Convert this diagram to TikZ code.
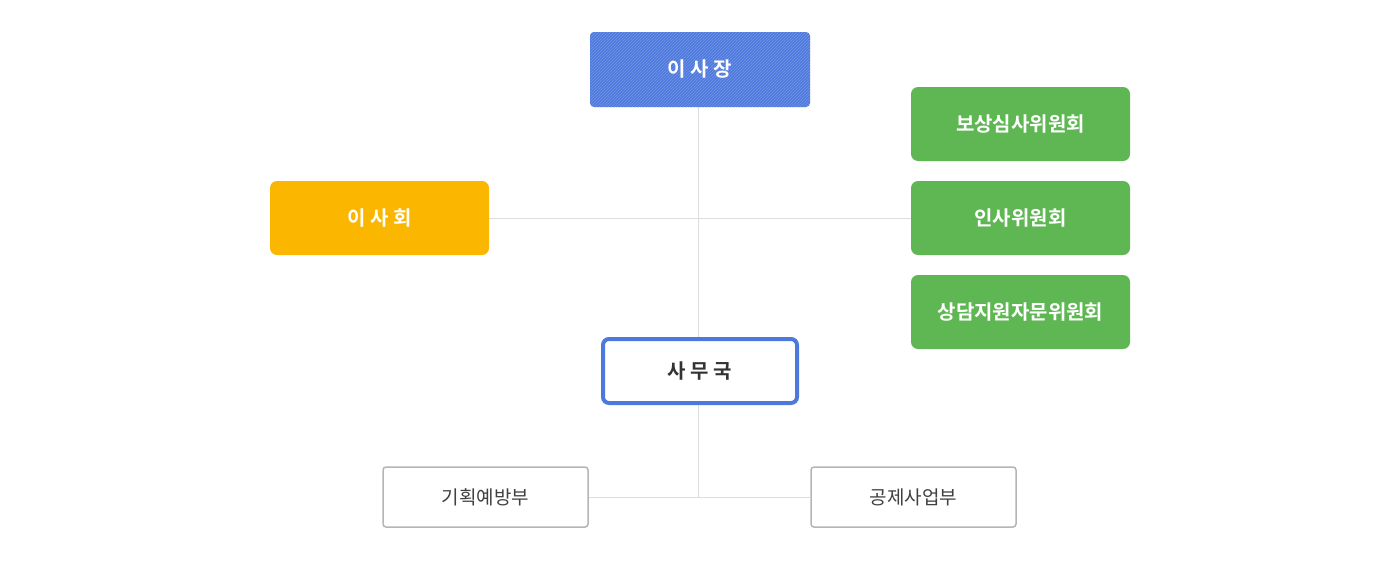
\documentclass[tikz,border=0pt]{standalone}
\usepackage{fontspec}
\newfontfamily\kr{Noto Sans CJK KR}
\newfontfamily\krb{Noto Sans CJK KR Bold}
\usetikzlibrary{patterns,backgrounds}
\definecolor{chairblue}{HTML}{4E79DC}
\definecolor{stripeblue}{HTML}{7396E6}
\definecolor{boardorange}{HTML}{FBB600}
\definecolor{cmtgreen}{HTML}{5FB753}
\definecolor{linegray}{HTML}{DDDDDD}
\definecolor{boxgray}{HTML}{B5B5B5}
\begin{document}
\begin{tikzpicture}[x=1pt,y=-1pt,
  bigbox/.style={minimum width=219pt,minimum height=74pt,rounded corners=7pt,
    text=white,font=\krb\fontsize{20}{24}\selectfont},
  cmtbox/.style={bigbox,fill=cmtgreen},
  deptbox/.style={draw=boxgray,line width=1.5pt,fill=white,rounded corners=3pt,
    minimum width=205pt,minimum height=60pt,text=black!75,
    font=\kr\fontsize{19}{23}\selectfont},
  link/.style={draw=linegray,line width=1pt}]
\useasboundingbox (0,0) rectangle (1400,565);
\coordinate (hub) at (698,217);
\coordinate (low) at (698,497);
\node[bigbox,minimum width=220pt,minimum height=75pt,rounded corners=4pt,fill=chairblue,
  postaction={pattern=north east lines,pattern color=stripeblue}] (chair) at (700,69.5) {이 사 장};
\node[bigbox,fill=boardorange] (board) at (379.5,218) {이 사 회};
\node[cmtbox] (cmt1) at (1020.5,124) {보상심사위원회};
\node[cmtbox] (cmt2) at (1020.5,218) {인사위원회};
\node[cmtbox] (cmt3) at (1020.5,312) {상담지원자문위원회};
\node[draw=chairblue,line width=4pt,fill=white,rounded corners=6pt,
  minimum width=194pt,minimum height=64pt,text=black!80,
  font=\krb\fontsize{20}{24}\selectfont] (office) at (700,371) {사 무 국};
\node[deptbox] (plan) at (485.5,497) {기획예방부};
\node[deptbox] (aid) at (913.5,497) {공제사업부};
% connectors behind the boxes
\begin{scope}[on background layer]
\path[link] (chair.south -| hub) -- (office.north -| hub);
\path[link] (board.east) -- (cmt2.west);
\path[link] (office.south -| hub) -- (low);
\path[link] (plan.east) -- (aid.west);
\end{scope}
\end{tikzpicture}
\end{document}
